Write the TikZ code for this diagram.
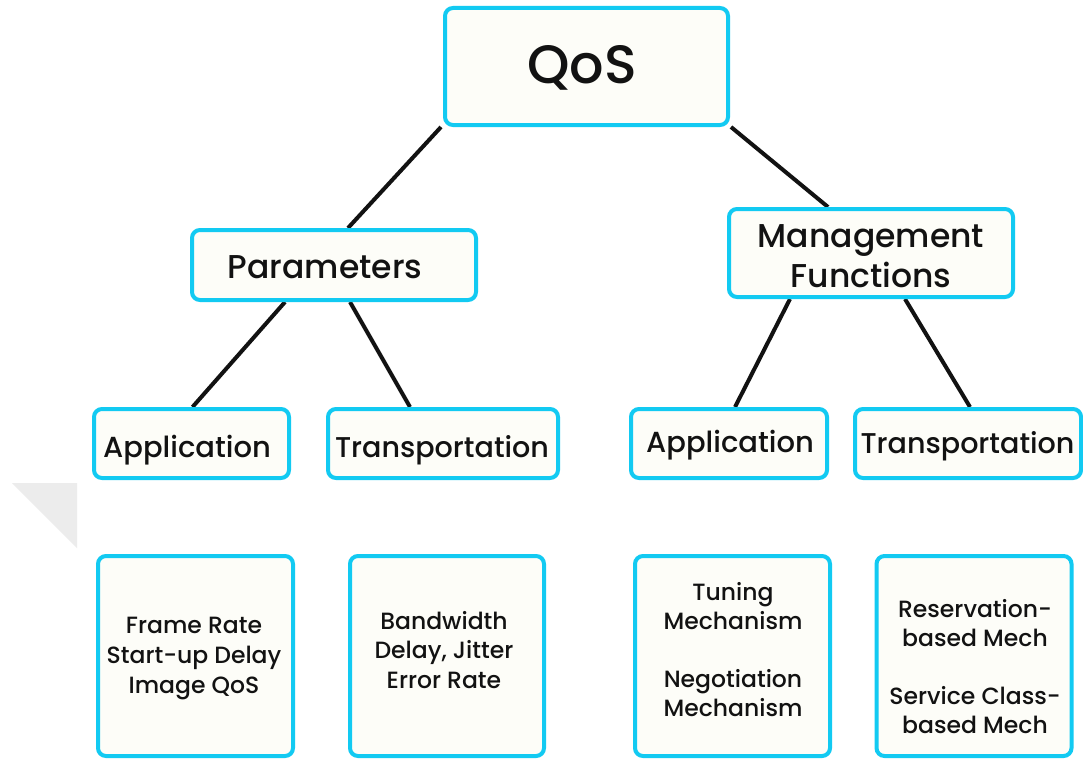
\documentclass[tikz,border=0pt]{standalone}
\usepackage{fontspec}
\setmainfont{Poppins}[UprightFont=* Medium]
\usetikzlibrary{backgrounds}
\definecolor{qosborder}{RGB}{18,202,242}
\definecolor{qosfill}{RGB}{253,253,248}
\definecolor{qosink}{RGB}{18,18,18}
\definecolor{qosshade}{RGB}{236,236,236}
\newcommand{\qosfont}[2]{\fontsize{#1}{#2}\selectfont}
\newcommand{\topstrut}{\rule{0pt}{22pt}}
\begin{document}
\begin{tikzpicture}[x=1pt,y=-1pt,
  box/.style={draw=qosborder, line width=4pt, fill=qosfill, rounded corners=8pt, inner sep=0pt},
  link/.style={draw=qosink, line width=4pt},
  lbl/.style={text=qosink, inner sep=0pt, outer sep=0pt, align=center}]
\useasboundingbox (0,0) rectangle (1083,760);

% boxes
\node[box, minimum width=283, minimum height=117] (qos)  at (586.5,66.5) {};
\node[box, minimum width=284, minimum height=70]  (par)  at (334,265) {};
\node[box, minimum width=284, minimum height=88]  (mgt)  at (871,253) {};
\node[box, minimum width=195, minimum height=69]  (appL) at (191.5,443.5) {};
\node[box, minimum width=230, minimum height=69]  (trL)  at (443,443.5) {};
\node[box, minimum width=196, minimum height=69]  (appR) at (729,443.5) {};
\node[box, minimum width=226, minimum height=69]  (trR)  at (968,443.5) {};
\node[box, minimum width=195, minimum height=200] (b1)   at (195.5,656) {};
\node[box, minimum width=194, minimum height=200] (b2)   at (447,656) {};
\node[box, minimum width=195, minimum height=200] (b3)   at (732.5,656) {};
\node[box, minimum width=195, minimum height=200] (b4)   at (974,656) {};

\begin{pgfonlayer}{background}
  \fill[white] (0,0) rectangle (1083,760);
  % faint corner shade on the left
  \fill[qosshade] (12,483) -- (77,483) -- (77,548) -- cycle;
  % connectors, tucked under the boxes
  \draw[link] ([xshift=-2]qos.south west) -- ([xshift=14]par.north);
  \draw[link] ([xshift=1]qos.south east) -- ([xshift=-43]mgt.north);
  \draw[link] ([xshift=-49]par.south) -- ([xshift=1]appL.north);
  \draw[link] ([xshift=16]par.south) -- ([xshift=-33]trL.north);
  \draw[link] ([xshift=-81]mgt.south) -- ([xshift=6]appR.north);
  \draw[link] ([xshift=34]mgt.south) -- ([xshift=2]trR.north);
\end{pgfonlayer}

% labels
\node[lbl, anchor=base, font=\qosfont{54}{60}] (tqos) at (582,83) {QoS};
\node[lbl, anchor=base, font=\qosfont{33}{40}] (tpar) at (325,278) {Parameters};
\node[lbl, anchor=north, font=\qosfont{33}{40}] (tmgt) at (871,225) {\topstrut Management\\Functions};
\node[lbl, anchor=base, font=\qosfont{29}{34}] (tappL) at (187,457) {Application};
\node[lbl, anchor=base, font=\qosfont{28.6}{34}] (ttrL) at (442,457) {Transportation};
\node[lbl, anchor=base, font=\qosfont{29}{34}] (tappR) at (730,452) {Application};
\node[lbl, anchor=base, font=\qosfont{28.6}{34}] (ttrR) at (967.5,453) {Transportation};
\node[lbl, anchor=north, font=\qosfont{23.5}{30}] (tb1) at (194,611) {\topstrut Frame Rate\\Start-up Delay\\Image QoS};
\node[lbl, anchor=north, font=\qosfont{23.5}{29.5}] (tb2) at (444,607) {\topstrut Bandwidth\\Delay, Jitter\\Error Rate};
\node[lbl, anchor=north, font=\qosfont{23.5}{29}] (tb3) at (733,578) {\topstrut Tuning\\Mechanism\\[29pt]Negotiation\\Mechanism};
\node[lbl, anchor=north, font=\qosfont{23.5}{29}] (tb4) at (975,595) {\topstrut Reservation-\\based Mech\\[29pt]Service Class-\\based Mech};
\end{tikzpicture}
\end{document}
